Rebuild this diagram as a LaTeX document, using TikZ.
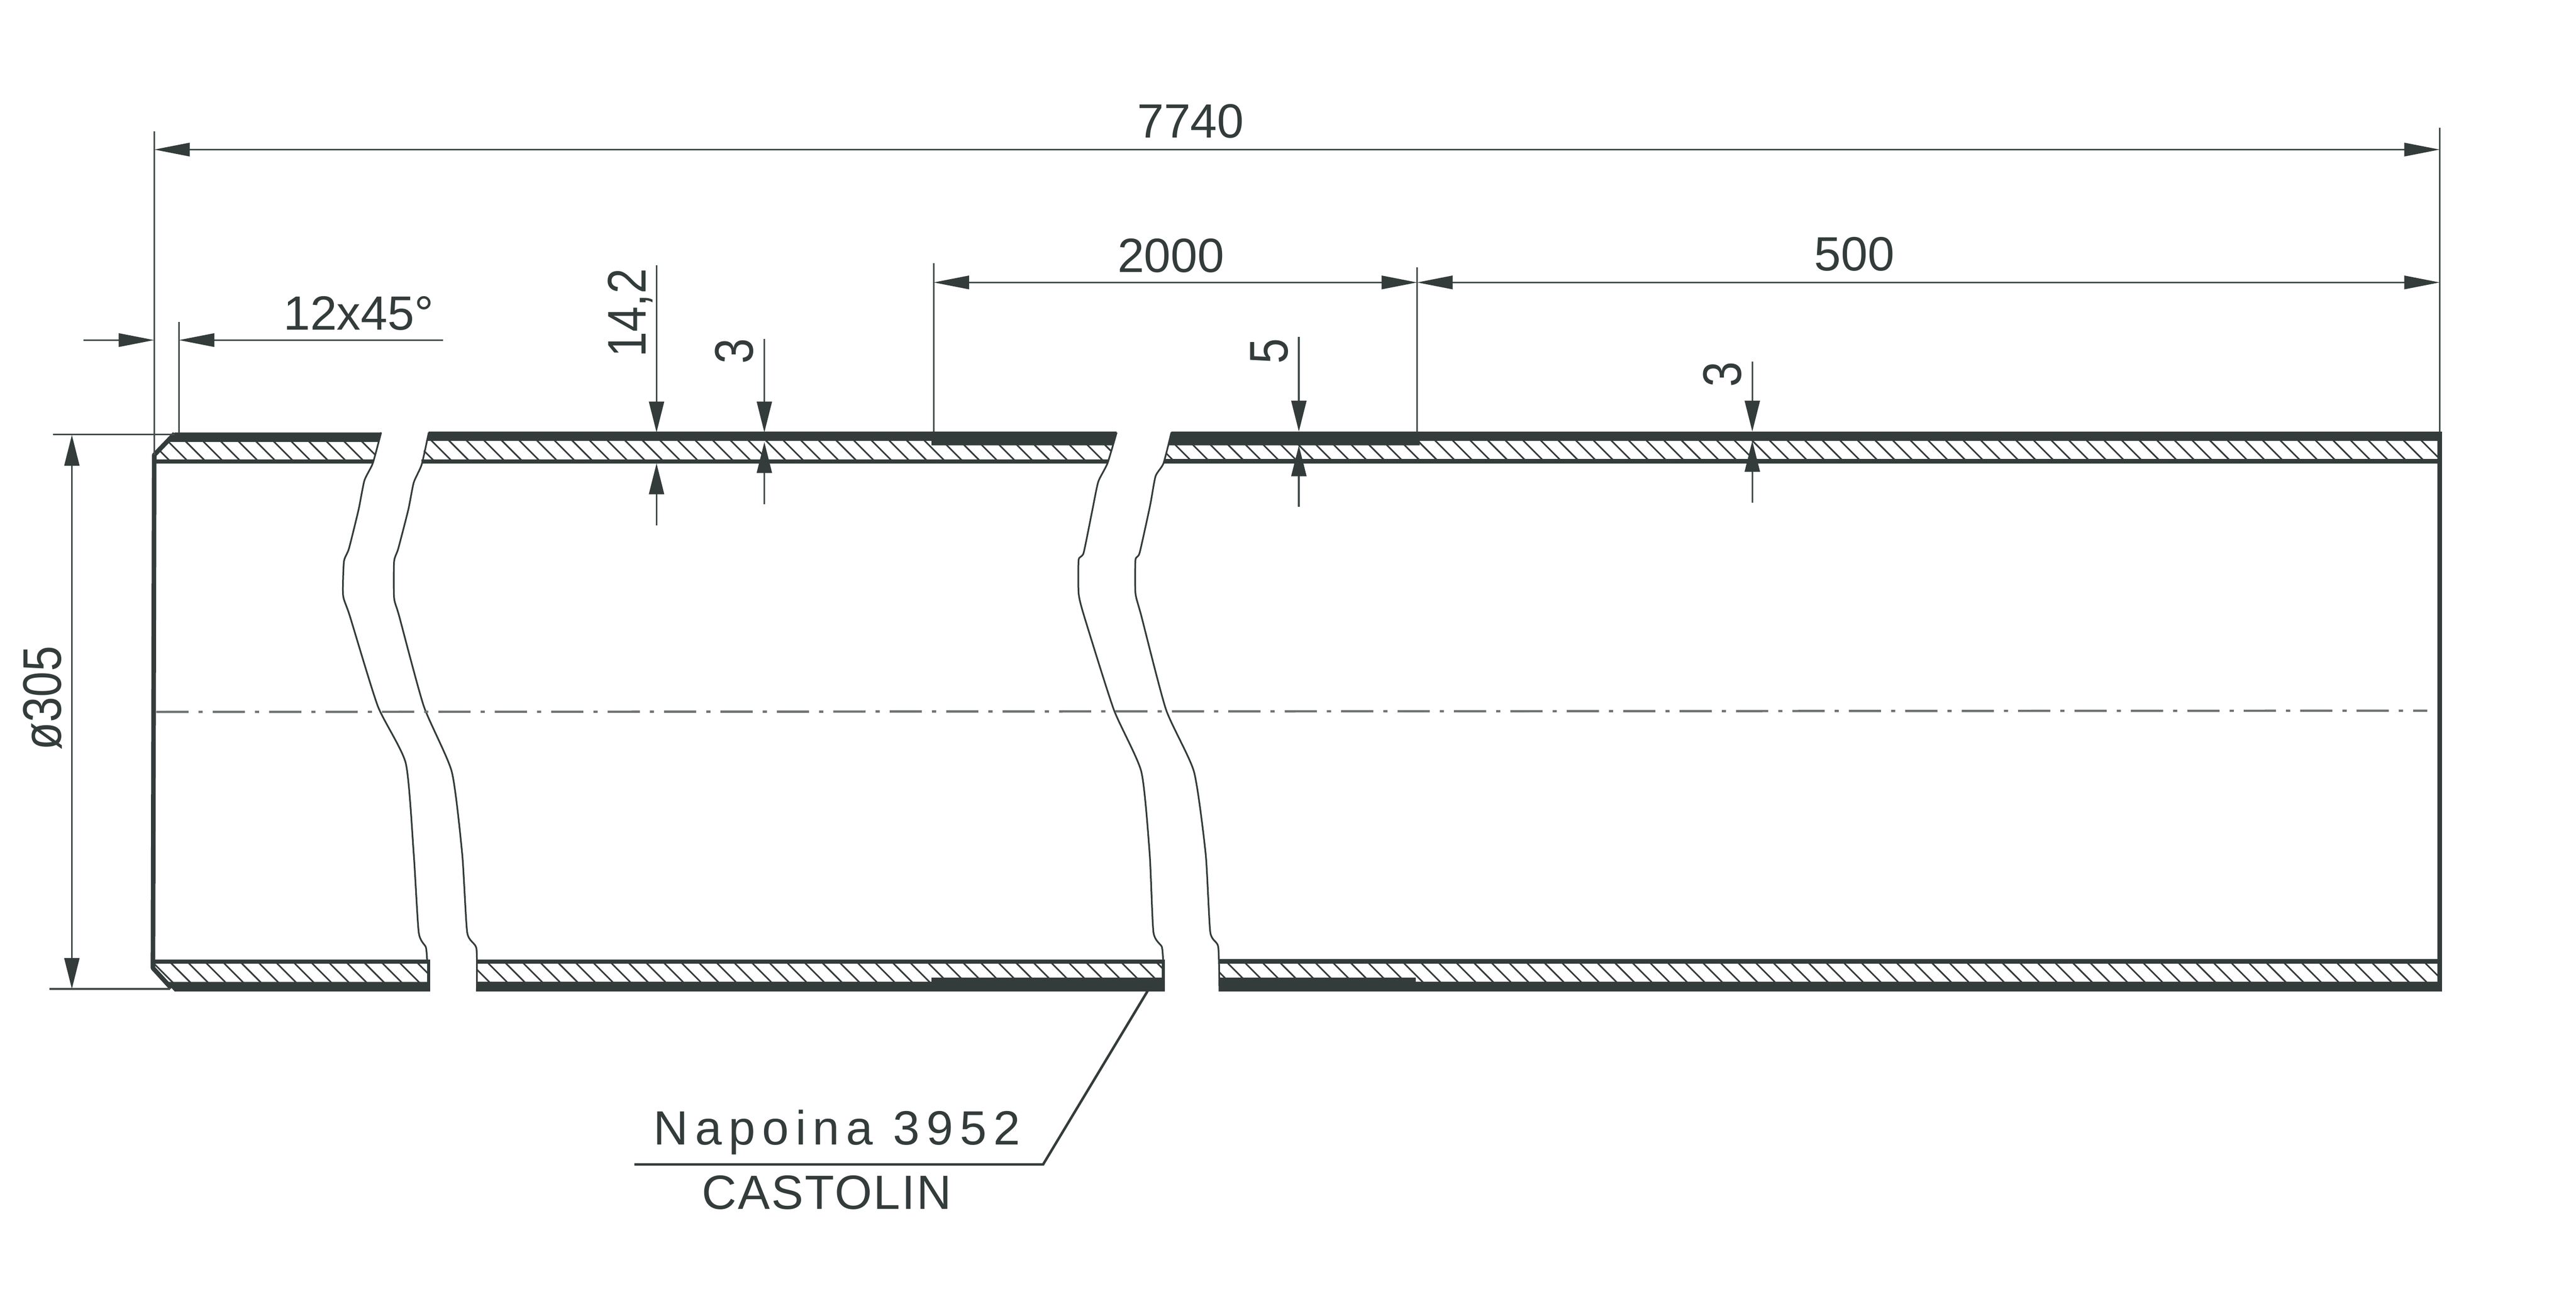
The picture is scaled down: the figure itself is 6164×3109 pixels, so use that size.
\documentclass[tikz,border=0pt]{standalone}
\usepackage{fontspec}
\setmainfont{Liberation Sans}
\newfontfamily\spacedfont[LetterSpace=14]{Liberation Sans}
\newfontfamily\castfont[LetterSpace=3]{Liberation Sans}
\usetikzlibrary{arrows.meta}
\definecolor{ink}{HTML}{333B3B}
\definecolor{thinink}{HTML}{454D4D}
\definecolor{axisink}{HTML}{6E7272}
\newcommand{\htext}{\fontsize{23}{23}\selectfont}
\newcommand{\vtext}[1]{\scalebox{0.84}[1]{\fontsize{26}{26}\selectfont #1}}
\tikzset{
  x=0.2pt,y=-0.2pt,
  labelh/.style={inner sep=0pt,anchor=base,text=ink,font=\htext},
  labelv/.style={inner sep=0pt,anchor=base,rotate=90,text=ink},
  extline/.style={draw=thinink,line width=0.8pt},
  hdim/.style={draw=thinink,line width=0.8pt,arrows={-{Triangle[length=17pt,width=6.4pt,color=ink]}}},
  hdimboth/.style={draw=thinink,line width=0.8pt,arrows={{Triangle[length=17pt,width=6.4pt,color=ink]}-{Triangle[length=17pt,width=6.4pt,color=ink]}}},
  vdim/.style={draw=thinink,line width=0.8pt,arrows={-{Triangle[length=14.8pt,width=7.2pt,color=ink]}}},
  vdimboth/.style={draw=thinink,line width=0.8pt,arrows={{Triangle[length=14.8pt,width=7.2pt,color=ink]}-{Triangle[length=14.8pt,width=7.2pt,color=ink]}}},
  hatchline/.style={draw=ink,line width=0.75pt},
  breakline/.style={draw=ink,line width=0.8pt,line join=round},
  outline/.style={draw=ink,line width=2.2pt},
  axisline/.style={draw=axisink,line width=1.1pt,dash pattern=on 15.4pt off 4.8pt on 2pt off 4.8pt},
  leader/.style={draw=ink,line width=1.2pt,line join=miter},
}
\begin{document}
\begin{tikzpicture}
\path[fill=white,use as bounding box] (0,0) rectangle (6164,3109);

% key points
\coordinate (topExt) at (418,1040);
\coordinate (chamTop) at (428,1035);
\coordinate (edgeRT) at (5838,1033);
\coordinate (weldA) at (2234,1033);
\coordinate (weldB) at (3391,1033);
\coordinate (chamBot) at (407,2367);

% hatching: top wall
\begin{scope}
  \clip (369,1089) -- (428,1035) -- (912,1035) -- (892,1109) -- (369,1109) -- cycle
        (1026,1035) -- (2672,1035) -- (2650,1109) -- (1006,1109) -- cycle
        (2803,1035) -- (5838,1035) -- (5838,1109) -- (2784,1109) -- cycle;
  \foreach \k in {-14,...,125}
    \draw[hatchline] ({5316-42.14*\k},1040) -- ({5316-42.14*\k+74},1114);
\end{scope}
% hatching: bottom wall
\begin{scope}
  \clip (366,2300) -- (366,2317) -- (418,2373) -- (1029,2373) -- (1029,2300) -- cycle
        (1141,2300) -- (2787,2300) -- (2787,2373) -- (1141,2373) -- cycle
        (2918,2300) -- (5838,2300) -- (5838,2373) -- (2918,2373) -- cycle;
  \foreach \k in {0,...,130}
    \draw[hatchline] ({414+42.14*\k-52},2300) -- ({414+42.14*\k+25},2377);
\end{scope}

% top wall: outer band with welded zones
\fill[ink] (418,1035) -- (912,1035) -- (906,1058) -- (400,1058) -- cycle;
\fill[ink] (1026,1033) -- (2234,1033) -- (2234,1055) -- (1020,1055) -- cycle;
\fill[ink] (2229,1033) -- (2672,1033) -- (2664,1066) -- (2229,1066) -- cycle;
\fill[ink] (2803,1033) -- (3397,1033) -- (3397,1066) -- (2795,1066) -- cycle;
\fill[ink] (3391,1033) -- (5844,1033) -- (5844,1055) -- (3391,1055) -- cycle;
% top wall: inner line
\fill[ink] (369,1100) rectangle (893,1110);
\fill[ink] (1008,1100) rectangle (2652,1110);
\fill[ink] (2786,1099) rectangle (5838,1109);
% bottom wall: inner line
\fill[ink] (366,2297) rectangle (1029,2307);
\fill[ink] (1141,2297) rectangle (2787,2306);
\fill[ink] (2918,2296) rectangle (5844,2306);
% bottom wall: outer band
\fill[ink] (397,2350) -- (1029,2350) -- (1029,2373) -- (418,2373) -- cycle;
\fill[ink] (1141,2350) rectangle (2234,2373);
\fill[ink] (2229,2340) rectangle (2787,2373);
\fill[ink] (2918,2340) rectangle (3388,2373);
\fill[ink] (3385,2350) rectangle (5844,2373);
% ends of bottom wall
\fill[ink] (1022,2297) rectangle (1029,2373);
\fill[ink] (2780,2297) rectangle (2787,2373);

% ends and chamfers
\draw[outline,line join=round] (418,1038) -- (369,1089) -- (366,2317) -- (410,2365);
\draw[outline] (5838,1033) -- (5838,2373);

% break lines
\draw[breakline] plot[smooth,tension=0.35] coordinates {(912,1035) (892,1109) (872,1150) (858,1220) (835,1313) (823,1344) (821,1425) (837,1474) (904,1690) (971,1827) (990,2044) (1002,2232) (1019,2267) (1022,2297)};
\draw[breakline] plot[smooth,tension=0.35] coordinates {(1026,1035) (1009,1112) (990,1155) (977,1220) (953,1313) (943,1344) (943,1431) (955,1474) (1014,1690) (1081,1847) (1106,2044) (1118,2232) (1140,2270) (1141,2373)};
\draw[breakline] plot[smooth,tension=0.35] coordinates {(2672,1035) (2650,1109) (2628,1153) (2614,1220) (2593,1323) (2581,1340) (2581,1420) (2594,1474) (2665,1698) (2731,1847) (2751,2044) (2760,2231) (2780,2266) (2783,2297)};
\draw[breakline] plot[smooth,tension=0.35] coordinates {(2803,1035) (2784,1109) (2765,1140) (2752,1210) (2727,1323) (2717,1340) (2717,1420) (2731,1474) (2790,1698) (2857,1847) (2885,2044) (2896,2231) (2915,2266) (2918,2373)};

% axis
\coordinate (axisL) at (374,1704);
\coordinate (axisR) at (5808,1701);
\draw[axisline] (axisL) -- (axisR);

% extension lines
\coordinate (e1) at (369,314);
\coordinate (e2) at (5838,306);
\coordinate (e3) at (2234,630);
\coordinate (e4) at (3391,640);
\coordinate (e5) at (428,771);
\coordinate (e6) at (127,1040);
\coordinate (e7) at (118,2367);
\draw[extline] (e1) -- (369,1089);
\draw[extline] (e2) -- (edgeRT);
\draw[extline] (e3) -- (weldA);
\draw[extline] (e4) -- (weldB);
\draw[extline] (e5) -- (chamTop);
\draw[extline] (e6) -- (topExt);
\draw[extline] (e7) -- (chamBot);

% long dimensions
\coordinate (a1) at (369,358);
\coordinate (a2) at (5838,358);
\draw[hdimboth] (a1) -- (a2);
\coordinate (b1) at (2234,676);
\coordinate (b2) at (3391,676);
\coordinate (b3) at (5838,676);
\draw[hdimboth] (b1) -- (b2);
\draw[hdimboth] (b2) -- (b3);
% chamfer dimension
\coordinate (c0) at (200,814);
\coordinate (c1) at (369,814);
\coordinate (c2) at (1060,814);
\coordinate (c3) at (428,814);
\draw[hdim] (c0) -- (c1);
\draw[hdim] (c2) -- (c3);
% diameter
\coordinate (d1) at (172,1041);
\coordinate (d2) at (172,2367);
\draw[vdimboth] (d1) -- (d2);
% wall thicknesses
\coordinate (t1a) at (1571,635);
\coordinate (t1b) at (1571,1035);
\coordinate (t1c) at (1571,1258);
\coordinate (t1d) at (1571,1109);
\draw[vdim] (t1a) -- (t1b);
\draw[vdim] (t1c) -- (t1d);
\coordinate (t2a) at (1829,811);
\coordinate (t2b) at (1829,1035);
\coordinate (t2c) at (1829,1207);
\coordinate (t2d) at (1829,1058);
\draw[vdim] (t2a) -- (t2b);
\draw[vdim] (t2c) -- (t2d);
\coordinate (t3a) at (3108,806);
\coordinate (t3b) at (3108,1033);
\coordinate (t3c) at (3108,1213);
\coordinate (t3d) at (3108,1066);
\draw[vdim] (t3a) -- (t3b);
\draw[vdim] (t3c) -- (t3d);
\coordinate (t4a) at (4193,865);
\coordinate (t4b) at (4193,1033);
\coordinate (t4c) at (4193,1203);
\coordinate (t4d) at (4193,1055);
\draw[vdim] (t4a) -- (t4b);
\draw[vdim] (t4c) -- (t4d);

% leader
\coordinate (l1) at (2746,2372);
\coordinate (l2) at (2496,2787);
\coordinate (l3) at (1518,2787);
\draw[leader] (l1) -- (l2) -- (l3);

% labels
\node[labelh] (n7740) at (2849,330) {7740};
\node[labelh] (n2000) at (2802,652) {2000};
\node[labelh] (n500) at (4437,648) {500};
\node[labelh] (nCham) at (858,790) {12x45°};
\node[labelv] (n142) at (1545,749) {\vtext{14,2}};
\node[labelv] (n3a) at (1802,840) {\vtext{3}};
\node[labelv] (n5) at (3081,840) {\vtext{5}};
\node[labelv] (n3b) at (4166,896) {\vtext{3}};
\node[labelv] (nDia) at (146,1671) {\vtext{ø305}};
\node[labelh,font=\spacedfont\htext] (nNap) at (2003,2740) {Napoina 3952};
\node[labelh,font=\castfont\htext] (nCast) at (1978,2894) {CASTOLIN};
\end{tikzpicture}
\end{document}
